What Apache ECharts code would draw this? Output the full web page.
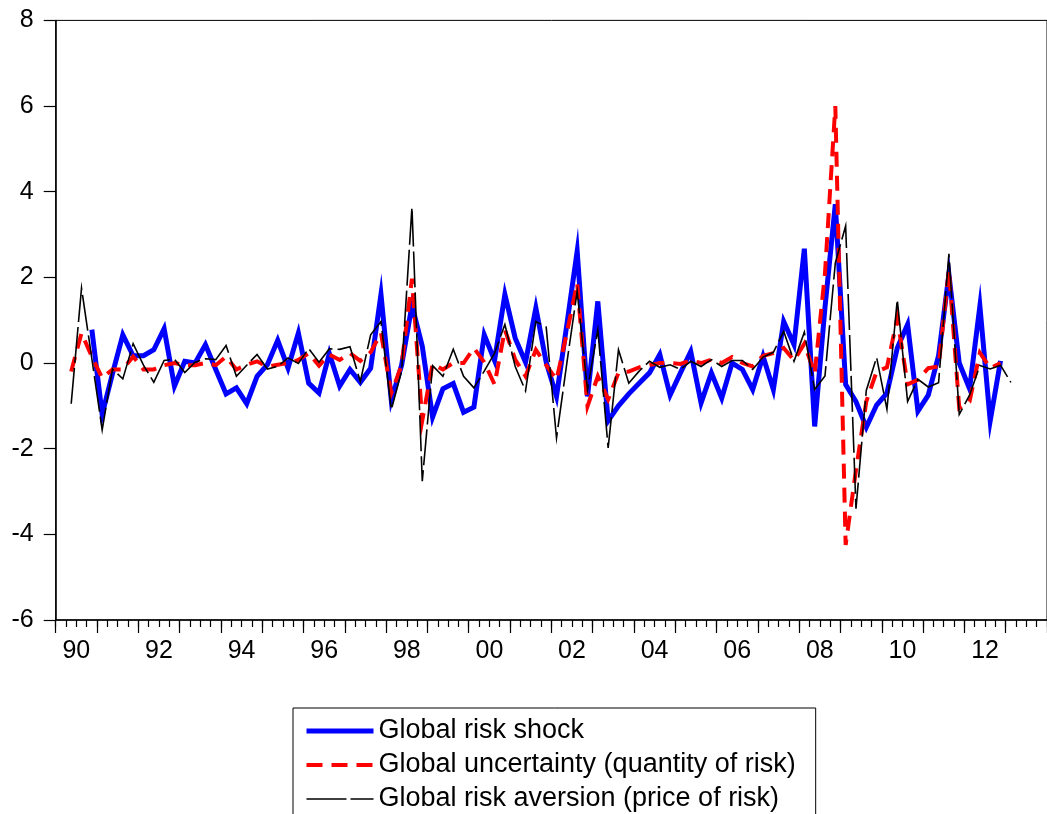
<!DOCTYPE html>
<html>
<head>
<meta charset="utf-8">
<script src="https://cdn.jsdelivr.net/npm/echarts@6/dist/echarts.min.js"></script>
<style>
html,body{margin:0;padding:0;background:#fff;}
#chart{width:1047px;height:814px;}
</style>
</head>
<body>
<div id="chart"></div>
<script>
// Quarterly categories 1990Q1 .. 2013Q4
const years = [];
for (let y = 1990; y <= 2013; y++) years.push(String(y));
const quarters = [];
years.forEach(function (y) { for (let q = 1; q <= 4; q++) quarters.push(y + 'Q' + q); });

const yTicks = [-6, -4, -2, 0, 2, 4, 6, 8];

// Global risk shock (1990Q4 .. 2012Q4)
const riskShock = [
  null, null, null, 0.78,
  -1.2, -0.25, 0.66, 0.17,
  0.17, 0.31, 0.8, -0.54,
  0.04, 0.0, 0.43, -0.15,
  -0.72, -0.58, -0.95, -0.31,
  -0.04, 0.53, -0.12, 0.70,
  -0.47, -0.70, 0.22, -0.54,
  -0.15, -0.45, -0.12, 1.6,
  -0.87, -0.05, 1.35, 0.39,
  -1.26, -0.6, -0.48, -1.15,
  -1.03, 0.66, 0.06, 1.6,
  0.58, 0.02, 1.29, 0.02,
  -0.78, 0.9, 2.61, -0.78,
  1.44, -1.35, -1.0, -0.72,
  -0.47, -0.23, 0.2, -0.75,
  -0.23, 0.27, -0.93, -0.23,
  -0.82, 0.0, -0.15, -0.62,
  0.16, -0.62, 0.97, 0.43,
  2.67, -1.48, 1.3, 3.71,
  -0.5, -0.9, -1.5, -0.98,
  -0.7, 0.35, 0.9, -1.12,
  -0.75, 0.17, 2.07, 0.0,
  -0.6, 1.33, -1.35, 0.05,
  null, null, null, null
];

// Global uncertainty (quantity of risk)
const uncertainty = [
  null, -0.2, 0.7, 0.15,
  -0.35, -0.15, -0.15, 0.15,
  -0.15, -0.15, -0.05, 0.0,
  -0.05, -0.05, 0.0, -0.05,
  0.15, -0.15, -0.04, 0.04,
  -0.09, -0.04, 0.0, 0.07,
  0.23, -0.06, 0.2, 0.07,
  0.23, 0.05, 0.25, 0.7,
  -0.7, -0.05, 1.97, -1.34,
  -0.02, -0.15, 0.0, 0.0,
  0.35, 0.02, -0.5, 0.78,
  0.08, -0.31, 0.31, -0.05,
  -0.39, 0.7, 1.87, -1.01,
  -0.31, -0.85, -0.23, -0.2,
  -0.1, -0.05, 0.0, 0.0,
  -0.02, 0.06, 0.0, 0.08,
  0.0, 0.14, 0.0, -0.08,
  0.17, 0.23, 0.35, 0.06,
  0.45, -0.25, 2.1, 6.0,
  -4.25, -2.5, -0.9, -0.2,
  -0.1, 1.05, -0.5, -0.39,
  -0.12, -0.08, 2.18, -1.05,
  -0.9, 0.24, -0.12, 0.0,
  null, null, null, null
];

// Global risk aversion (price of risk)
const riskAversion = [
  null, -0.95, 1.75, 0.1,
  -1.56, -0.14, -0.37, 0.45,
  -0.05, -0.45, 0.06, 0.09,
  -0.22, 0.02, 0.1, 0.08,
  0.41, -0.31, -0.05, 0.2,
  -0.14, -0.08, 0.12, -0.01,
  0.34, 0.02, 0.33, 0.32,
  0.38, -0.43, 0.66, 0.97,
  -1.09, -0.19, 3.64, -2.76,
  -0.06, -0.31, 0.32, -0.31,
  -0.58, -0.19, 0.23, 0.9,
  -0.08, -0.65, 0.97, 0.84,
  -1.75, 0.0, 1.67, -0.62,
  0.78, -1.98, 0.31, -0.47,
  -0.19, 0.04, -0.1, -0.04,
  -0.15, 0.04, -0.08, 0.08,
  -0.08, 0.06, 0.06, -0.15,
  0.14, 0.25, 0.74, 0.04,
  0.72, -0.62, -0.3, 2.34,
  3.2, -3.4, -0.64, 0.13,
  -1.08, 1.48, -0.9, -0.38,
  -0.56, -0.46, 2.55, -1.2,
  -0.75, -0.06, -0.14, -0.05,
  -0.45, null, null, null
];

const seriesNames = [
  'Global risk shock',
  'Global uncertainty (quantity of risk)',
  'Global risk aversion (price of risk)'
];

const FONT = '"Liberation Sans", Arial, sans-serif';

const chart = echarts.init(document.getElementById('chart'), null, { renderer: 'canvas' });

const hiddenSymbol = { opacity: 0, color: 'transparent', borderWidth: 0 };

const option = {
  backgroundColor: '#ffffff',
  animation: false,
  textStyle: { fontFamily: FONT, color: '#000' },
  grid: {
    left: 55.7, top: 20.4, right: -8.3, bottom: 194,
    show: true, borderColor: '#000', borderWidth: 1, backgroundColor: 'transparent'
  },
  legend: {
    orient: 'vertical',
    left: 293, top: 708,
    height: 100,
    padding: [8, 20, 30, 11],
    borderColor: '#000', borderWidth: 1,
    itemWidth: 67, itemHeight: 14, itemGap: 4,
    textStyle: { fontFamily: FONT, fontSize: 27, color: '#000', lineHeight: 30 },
    data: [
      { name: seriesNames[0], itemStyle: hiddenSymbol, lineStyle: { color: '#0000ff', width: 5, type: 'solid' } },
      { name: seriesNames[1], itemStyle: hiddenSymbol, lineStyle: { color: '#ff0000', width: 4, type: [16, 9] } },
      { name: seriesNames[2], itemStyle: hiddenSymbol, lineStyle: { color: '#000000', width: 1.5, type: [40, 4] } }
    ]
  },
  xAxis: [
    {
      type: 'category', data: quarters, boundaryGap: true, position: 'bottom',
      axisLine: { show: true, onZero: false, lineStyle: { color: '#000', width: 1.5 } },
      axisTick: { show: true, interval: 0, length: 7, lineStyle: { color: '#000', width: 1.2 } },
      axisLabel: { show: false },
      splitLine: { show: false }
    },
    {
      type: 'category', data: years, boundaryGap: true, position: 'bottom',
      axisLine: { show: false, onZero: false },
      axisTick: { show: true, interval: 0, length: 13, lineStyle: { color: '#000', width: 1.2 } },
      axisLabel: {
        show: true, interval: 1, margin: 19, fontSize: 25, fontFamily: FONT, color: '#000',
        formatter: function (v) { return v.slice(2); }
      },
      splitLine: { show: false }
    }
  ],
  yAxis: {
    type: 'value', min: yTicks[0], max: yTicks[yTicks.length - 1], interval: 2,
    axisLine: { show: true, onZero: false, lineStyle: { color: '#000', width: 1.5 } },
    axisTick: { show: true, length: 12, lineStyle: { color: '#000', width: 1.2 } },
    axisLabel: { margin: 22, fontSize: 25, fontFamily: FONT, color: '#000' },
    splitLine: { show: false }
  },
  series: [
    {
      name: seriesNames[0], type: 'line', data: riskShock, xAxisIndex: 0,
      symbol: 'none',
      lineStyle: { color: '#0000ff', width: 5, type: 'solid', join: 'miter', cap: 'butt' },
      itemStyle: { color: '#0000ff' }
    },
    {
      name: seriesNames[1], type: 'line', data: uncertainty, xAxisIndex: 0,
      symbol: 'none',
      lineStyle: { color: '#ff0000', width: 4, type: [15, 9], join: 'miter' },
      itemStyle: { color: '#ff0000' }
    },
    {
      name: seriesNames[2], type: 'line', data: riskAversion, xAxisIndex: 0,
      symbol: 'none',
      lineStyle: { color: '#000000', width: 1.6, type: [36, 5], join: 'miter' },
      itemStyle: { color: '#000000' }
    }
  ]
};

chart.setOption(option);
</script>
</body>
</html>
